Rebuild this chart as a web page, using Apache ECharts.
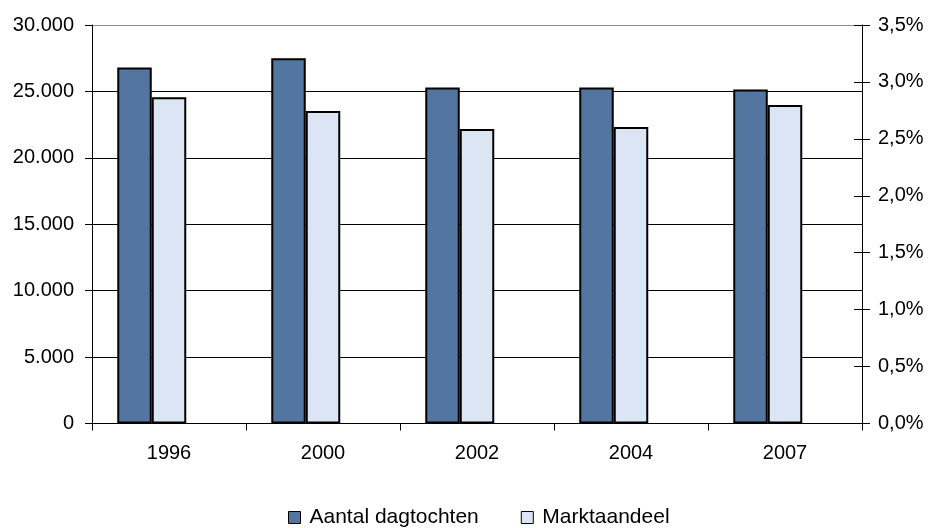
<!DOCTYPE html>
<html>
<head>
<meta charset="utf-8">
<script src="https://cdn.jsdelivr.net/npm/echarts@6/dist/echarts.min.js"></script>
<style>
html,body{margin:0;padding:0;background:#fff;}
#chart{width:929px;height:528px;}
</style>
</head>
<body>
<div id="chart"></div>
<script>
var categories = ['1996', '2000', '2002', '2004', '2007'];
var dagtochten = [26800, 27500, 25300, 25300, 25150];
var marktaandeel = [2.865, 2.745, 2.587, 2.604, 2.797];
var leftTicks = {min: 0, max: 30000, interval: 5000};
var rightTicks = {min: 0, max: 3.5, interval: 0.5};
var seriesNames = ['Aantal dagtochten', 'Marktaandeel'];

var FONT = "'Liberation Sans', Arial, sans-serif";
var chart = echarts.init(document.getElementById('chart'), null, {renderer: 'canvas'});

function fmtThousands(v) {
  return String(v).replace(/\B(?=(\d{3})+(?!\d))/g, '.');
}
function fmtPct(v) {
  return v.toFixed(1).replace('.', ',') + '%';
}

var option = {
  backgroundColor: '#fff',
  animation: false,
  textStyle: {fontFamily: FONT},
  grid: {left: 92, right: 67, top: 25, bottom: 104.5, containLabel: false},
  legend: {
    data: seriesNames,
    left: 283,
    top: 502,
    itemWidth: 12,
    itemHeight: 12,
    itemGap: 42,
    icon: 'rect',
    textStyle: {fontFamily: FONT, fontSize: 21, color: '#000', padding: [0, 0, 0, 4]},
    itemStyle: {borderColor: '#000', borderWidth: 1}
  },
  xAxis: {
    type: 'category',
    data: categories,
    axisLine: {lineStyle: {color: '#000', width: 1}},
    axisTick: {show: true, length: 7, lineStyle: {color: '#000'}},
    axisLabel: {color: '#000', fontSize: 20, fontFamily: FONT, margin: 20},
    splitLine: {show: false}
  },
  yAxis: [
    {
      type: 'value',
      min: leftTicks.min, max: leftTicks.max, interval: leftTicks.interval,
      position: 'left',
      axisLine: {show: true, lineStyle: {color: '#000', width: 1}},
      axisTick: {show: true, length: 7, lineStyle: {color: '#000'}},
      axisLabel: {color: '#000', fontSize: 20, fontFamily: FONT, margin: 18, formatter: fmtThousands},
      splitLine: {show: true, lineStyle: {color: ['#000', '#000', '#000', '#000', '#000', '#000', '#8c8c8c'], width: 1}}
    },
    {
      type: 'value',
      min: rightTicks.min, max: rightTicks.max, interval: rightTicks.interval,
      position: 'right',
      axisLine: {show: true, lineStyle: {color: '#000', width: 1}},
      axisTick: {show: true, length: 8, lineStyle: {color: '#000'}},
      axisLabel: {color: '#000', fontSize: 20, fontFamily: FONT, margin: 16, formatter: fmtPct},
      splitLine: {show: false}
    },
    {
      type: 'value',
      min: rightTicks.min, max: rightTicks.max, interval: rightTicks.interval,
      position: 'right',
      axisLine: {show: false},
      axisTick: {show: true, inside: true, length: 8, lineStyle: {color: '#000'}},
      axisLabel: {show: false},
      splitLine: {show: false}
    }
  ],
  series: [
    {
      name: seriesNames[0],
      type: 'bar',
      yAxisIndex: 0,
      data: dagtochten,
      barWidth: 34.5,
      barGap: '0%',
      itemStyle: {color: '#52769f', borderColor: '#000', borderWidth: 2}
    },
    {
      name: seriesNames[1],
      type: 'bar',
      yAxisIndex: 1,
      data: marktaandeel,
      barWidth: 34.5,
      barGap: '0%',
      itemStyle: {color: '#dce5f4', borderColor: '#000', borderWidth: 2}
    },
    {
      name: 'spacer',
      type: 'bar',
      yAxisIndex: 0,
      data: categories.map(function () { return null; }),
      barWidth: 34.5,
      barGap: '0%',
      silent: true
    }
  ]
};
chart.setOption(option);
</script>
</body>
</html>
